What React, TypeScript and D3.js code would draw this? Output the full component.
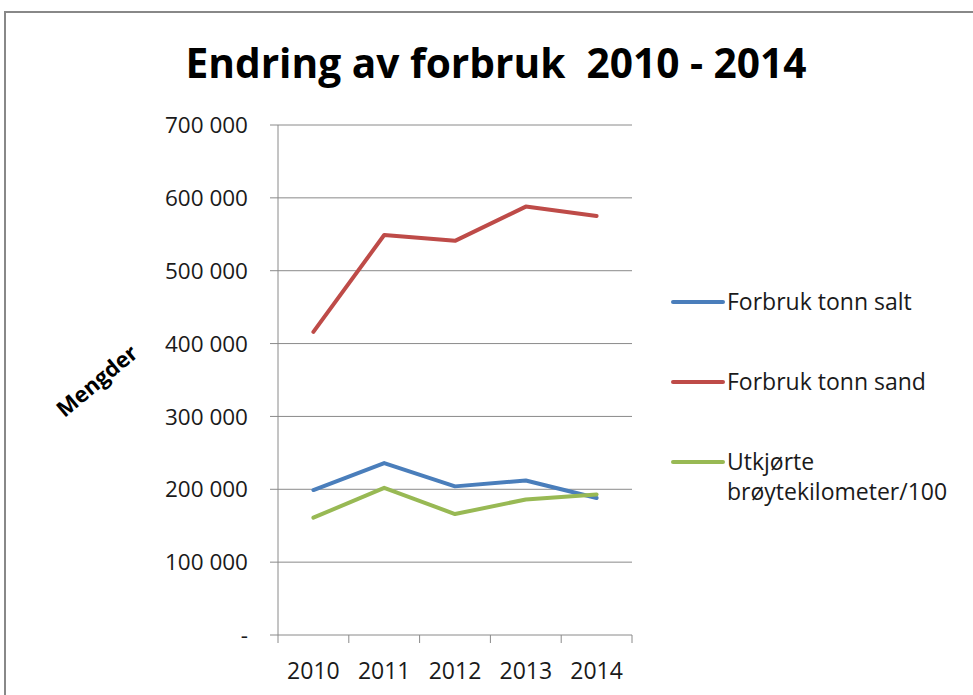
import React from "react";
import * as d3 from "d3";

const years = ["2010", "2011", "2012", "2013", "2014"];
const salt = [199000, 236000, 204000, 212000, 188000];
const sand = [416000, 549000, 541000, 588000, 575000];
const kilometers = [161000, 202000, 166000, 186000, 193000];
const yTicks = [0, 100000, 200000, 300000, 400000, 500000, 600000, 700000];
const seriesNames = ["Forbruk tonn salt", "Forbruk tonn sand", "Utkjørte brøytekilometer/100"];
const seriesColors = ["#4A7EBB", "#BE4B48", "#98B954"];

const FONT = "'Open Sans', 'DejaVu Sans', sans-serif";

export default function App() {
  const W = 973, H = 695;
  const left = 278, right = 632, top = 125, bottom = 635;
  const x = d3.scaleBand().domain(years).range([left, right]);
  const y = d3.scaleLinear().domain([0, 700000]).range([bottom, top]);
  const line = d3
    .line<number>()
    .x((_, i) => (x(years[i]) as number) + x.bandwidth() / 2)
    .y((d) => y(d));
  const series = [salt, sand, kilometers];
  const fmt = (v: number) => (v === 0 ? "-" : d3.format(",")(v).replace(/,/g, " "));
  const grid = "#8a8a8a";
  const legendY = [302, 382, 462];
  const textCol = "#1a1a1a";

  return (
    <svg width={W} height={H} style={{ position: "absolute", left: 0, top: 0, background: "#fff" }}>
      <rect x={5} y={12} width={990} height={720} fill="#fff" stroke="#888" strokeWidth={2} />
      <text
        x={496}
        y={78}
        textAnchor="middle"
        fontFamily={FONT}
        fontWeight="bold"
        fontSize={42}
        textLength={621}
        lengthAdjust="spacingAndGlyphs"
        style={{ whiteSpace: "pre" }}
      >
        {"Endring av forbruk  2010 - 2014"}
      </text>

      {yTicks.map((t) => (
        <g key={t}>
          <line x1={270} x2={right} y1={y(t)} y2={y(t)} stroke={grid} strokeWidth={1} />
          <text
            x={248}
            y={y(t)}
            dy="0.36em"
            textAnchor="end"
            fontFamily={FONT}
            fontSize={22.5}
            fill={textCol}
          >
            {fmt(t)}
          </text>
        </g>
      ))}
      <line x1={left} x2={left} y1={top} y2={bottom} stroke={grid} strokeWidth={1} />
      {[...years.map((yr) => x(yr) as number), right].map((bx, i) => (
        <line key={i} x1={bx} x2={bx} y1={bottom} y2={bottom + 8} stroke={grid} strokeWidth={1} />
      ))}
      {years.map((yr) => (
        <text
          key={yr}
          x={(x(yr) as number) + x.bandwidth() / 2}
          y={679}
          textAnchor="middle"
          fontFamily={FONT}
          fontSize={23}
          fill={textCol}
        >
          {yr}
        </text>
      ))}

      <text
        transform="translate(97,381) rotate(-40)"
        textAnchor="middle"
        dy="0.35em"
        fontFamily={FONT}
        fontWeight="bold"
        fontSize={22}
      >
        Mengder
      </text>

      {series.map((s, i) => (
        <path
          key={i}
          d={line(s) || ""}
          fill="none"
          stroke={seriesColors[i]}
          strokeWidth={4}
          strokeLinejoin="round"
          strokeLinecap="round"
        />
      ))}

      {seriesNames.map((n, i) => (
        <g key={n}>
          <line x1={673} x2={723} y1={legendY[i]} y2={legendY[i]} stroke={seriesColors[i]} strokeWidth={4} strokeLinecap="round" />
          {i < 2 ? (
            <text x={727} y={legendY[i] + 8} fontFamily={FONT} fontSize={23} fill={textCol}>
              {n}
            </text>
          ) : (
            <text x={727} y={legendY[i] + 8} fontFamily={FONT} fontSize={23} fill={textCol}>
              <tspan x={727}>{n.split(" ")[0]}</tspan>
              <tspan x={727} dy={30}>{n.split(" ")[1]}</tspan>
            </text>
          )}
        </g>
      ))}
    </svg>
  );
}
